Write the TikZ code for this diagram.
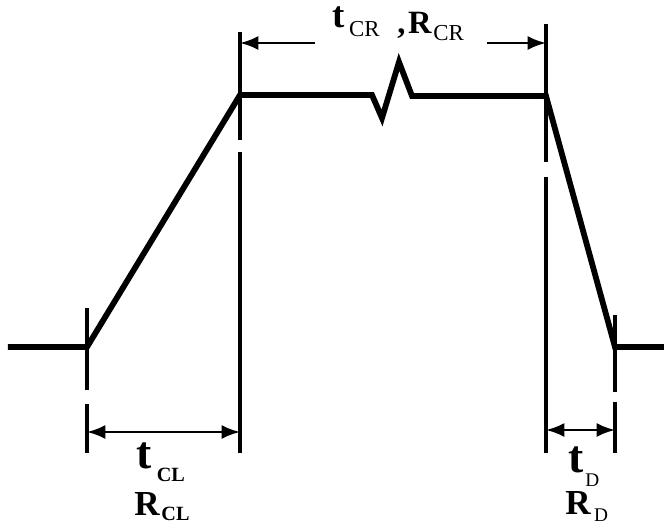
\documentclass[tikz,border=0pt]{standalone}
\usepackage{fontspec}
\setmainfont{Liberation Serif}
\usetikzlibrary{arrows.meta}

% label pieces
\newcommand{\labt}[1]{{\fontsize{#1}{#1}\selectfont\bfseries t}}
\newcommand{\labr}[1]{{\fontsize{#1}{#1}\selectfont\bfseries R}}
\newcommand{\lowsub}[3]{\hspace{#2}\raisebox{-#1}{#3}}

\begin{document}
\begin{tikzpicture}[x=0.02cm,y=-0.02cm,
    pulse/.style={line width=3.3pt,line join=miter},
    guide/.style={line width=2pt},
    guidetop/.style={line width=2.6pt},
    dim/.style={line width=1.4pt,{Latex[length=10.5pt,width=8pt]}-{Latex[length=10.5pt,width=8pt]}},
    dimto/.style={line width=1.4pt,-{Latex[length=10.5pt,width=8pt]}},
    lbl/.style={inner sep=0pt,anchor=base west}]
    \useasboundingbox (0,0) rectangle (664,531);

    % Pulse corners
    \coordinate (start) at (8,347);
    \coordinate (rise) at (87,347);
    \coordinate (topl) at (240,95);
    \coordinate (brk1) at (372,95);
    \coordinate (brk2) at (382,118);
    \coordinate (brk3) at (399,62);
    \coordinate (brk4) at (412,96);
    \coordinate (topr) at (546,96);
    \coordinate (fall) at (615,347);
    \coordinate (stop) at (664,347);

    % Pulse
    \draw[pulse] (start) -- (rise) -- (topl) -- (brk1) -- (brk2) -- (brk3)
        -- (brk4) -- (topr) -- (fall) -- (stop);

    % Guide lines
    \draw[guide] (87,308) -- (87,390);
    \draw[guide] (87,404) -- (87,453);
    \draw[guidetop] (240,32) -- (240,140);
    \draw[guide] (240,152) -- (240,453);
    \draw[guidetop] (546,24) -- (546,162);
    \draw[guide] (546,177) -- (546,453);
    \draw[guide] (615,315) -- (615,392);
    \draw[guide] (615,402) -- (615,453);

    % Dimension arrows
    \coordinate (crl) at (315,43);
    \coordinate (crr) at (487,43);
    \coordinate (crlend) at (240,43);
    \coordinate (crrend) at (546,43);
    \coordinate (cll) at (87,432);
    \coordinate (clr) at (240,432);
    \coordinate (dl) at (546,430);
    \coordinate (dr) at (615,430);
    \draw[dimto] (crl) -- (crlend);
    \draw[dimto] (crr) -- (crrend);
    \draw[dim] (cll) -- (clr);
    \draw[dim] (dl) -- (dr);

    % Labels
    \node[lbl] (tcr) at (332,27) {\labt{21pt}\lowsub{5.5pt}{2.5pt}{\fontsize{13}{13}\selectfont CR}};
    \node[lbl] (rcr) at (397,33) {\fontsize{18.5}{18.5}\selectfont\bfseries ,\hspace{1.5pt}R\lowsub{4pt}{1pt}{\fontsize{13}{13}\selectfont\mdseries CR}};
    \node[lbl] (tcl) at (136,468) {\labt{26pt}\lowsub{7.5pt}{3pt}{\fontsize{11.5}{11.5}\selectfont\bfseries CL}};
    \node[lbl] (rcl) at (134,515) {\labr{20pt}\lowsub{3pt}{1pt}{\fontsize{11.5}{11.5}\selectfont\bfseries CL}};
    \node[lbl] (td) at (568,472) {\labt{26pt}\lowsub{8pt}{1pt}{\fontsize{11}{11}\selectfont D}};
    \node[lbl] (rd) at (565,514) {\labr{20pt}\lowsub{4.5pt}{2pt}{\fontsize{11}{11}\selectfont D}};
\end{tikzpicture}
\end{document}
